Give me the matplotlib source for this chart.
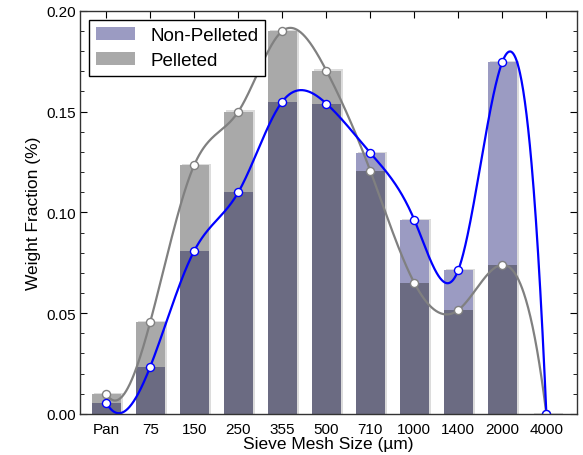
import numpy as np
import matplotlib
matplotlib.use("Agg")
import matplotlib.pyplot as plt
from matplotlib.patches import Patch
from matplotlib.ticker import MultipleLocator, FormatStrFormatter

plt.rcParams['font.family'] = ['Liberation Sans', 'DejaVu Sans']

sieve_sizes = ["Pan", "75", "150", "250", "355", "500", "710", "1000", "1400", "2000", "4000"]
non_pelleted = [0.0055, 0.0235, 0.081, 0.110, 0.155, 0.154, 0.1295, 0.0963, 0.0715, 0.1747, 0.0]
pelleted = [0.010, 0.0457, 0.1236, 0.150, 0.190, 0.1704, 0.1206, 0.065, 0.0516, 0.074, 0.0]

C_NP = "#9b9bc2"
C_P = "#a9a9a9"
C_BOTH = "#6b6b82"
C_SHADOW = "#dcdcdc"


def not_a_knot_spline(x, y, xs):
    """Cubic spline through (x, y) with not-a-knot end conditions."""
    x = np.asarray(x, float)
    y = np.asarray(y, float)
    n = len(x)
    h = np.diff(x)
    A = np.zeros((n, n))
    r = np.zeros(n)
    # third derivative continuous across the second and second-to-last knots
    A[0, 0] = 1 / h[0]
    A[0, 1] = -1 / h[0] - 1 / h[1]
    A[0, 2] = 1 / h[1]
    A[-1, -3] = 1 / h[-2]
    A[-1, -2] = -1 / h[-2] - 1 / h[-1]
    A[-1, -1] = 1 / h[-1]
    for i in range(1, n - 1):
        A[i, i - 1] = h[i - 1]
        A[i, i] = 2 * (h[i - 1] + h[i])
        A[i, i + 1] = h[i]
        r[i] = 6 * ((y[i + 1] - y[i]) / h[i] - (y[i] - y[i - 1]) / h[i - 1])
    M = np.linalg.solve(A, r)
    idx = np.clip(np.searchsorted(x, xs) - 1, 0, n - 2)
    hi = h[idx]
    a = x[idx + 1] - xs
    b = xs - x[idx]
    return (M[idx] * a ** 3 / (6 * hi) + M[idx + 1] * b ** 3 / (6 * hi)
            + (y[idx] / hi - M[idx] * hi / 6) * a
            + (y[idx + 1] / hi - M[idx + 1] * hi / 6) * b)


fig = plt.figure(figsize=(5.83, 4.56), dpi=100)
ax = fig.add_axes([0.137, 0.090, 0.853, 0.884])

pos = np.arange(len(sieve_sizes))
w = 0.66
np_arr = np.array(non_pelleted)
p_arr = np.array(pelleted)
top = np.maximum(np_arr, p_arr)
low = np.minimum(np_arr, p_arr)

# soft shadow behind each bar
ax.bar(pos + 0.05, top + 0.0006, w, color=C_SHADOW, zorder=1)
ax.bar(pos, np_arr, w, color=C_NP, zorder=2)
ax.bar(pos, p_arr, w, color=C_P, zorder=2)
ax.bar(pos, low, w, color=C_BOTH, zorder=3)

xs = np.linspace(0, len(pos) - 1, 800)
ax.plot(xs, not_a_knot_spline(pos, pelleted, xs), color="#808080", lw=1.6, zorder=4)
ax.plot(xs, not_a_knot_spline(pos, non_pelleted, xs), color="#0000ff", lw=1.6, zorder=5)
ax.plot(pos, pelleted, "o", ms=5.8, mfc="white", mec="#808080", mew=1.0, zorder=6)
ax.plot(pos, non_pelleted, "o", ms=5.8, mfc="white", mec="#0000ff", mew=1.0, zorder=7)

ax.set_xlim(-0.6, 10.7)
ax.set_ylim(0, 0.20)
ax.set_xticks(pos)
ax.set_xticklabels(sieve_sizes)
ax.yaxis.set_major_locator(MultipleLocator(0.05))
ax.yaxis.set_minor_locator(MultipleLocator(0.01))
ax.yaxis.set_major_formatter(FormatStrFormatter('%.2f'))
ax.tick_params(axis='y', which='major', direction='in', length=5, right=True, labelsize=11, pad=3)
ax.tick_params(axis='y', which='minor', direction='in', length=3, right=True)
ax.tick_params(axis='x', which='major', direction='in', length=5, top=True, bottom=False, labelsize=11, pad=6)
for s in ax.spines.values():
    s.set_linewidth(1.0)
    s.set_color("#333333")
    s.set_zorder(8)

ax.set_xlabel("Sieve Mesh Size (µm)", fontsize=12.5, labelpad=0)
ax.set_ylabel("Weight Fraction (%)", fontsize=12.5, labelpad=4)

handles = [Patch(facecolor=C_NP, label="Non-Pelleted"), Patch(facecolor=C_P, label="Pelleted")]
leg = ax.legend(handles=handles, loc="upper left", fontsize=13.5, fancybox=False,
                edgecolor="black", framealpha=1, handlelength=2.1, borderaxespad=0.5,
                borderpad=0.35, labelspacing=0.45, handletextpad=0.8)
leg.get_frame().set_linewidth(1.0)
leg.set_zorder(10)

fig.savefig("out.png", dpi=100)
